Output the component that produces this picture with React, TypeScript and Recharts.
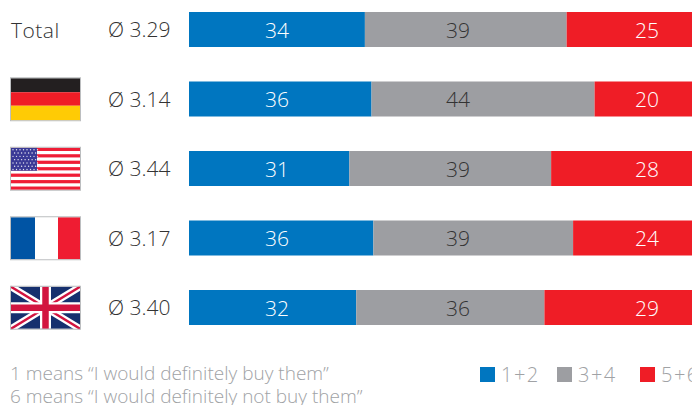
import { BarChart, Bar, XAxis, YAxis, LabelList, Legend } from 'recharts';

const categories = ['Total', 'Germany', 'USA', 'France', 'UK'];
const averages = ['3.29', '3.14', '3.44', '3.17', '3.40'];
const low = [34, 36, 31, 36, 32];
const mid = [39, 44, 39, 39, 36];
const high = [25, 20, 28, 24, 29];
const legendItems = ['1+2', '3+4', '5+6'];
const footnotes = ['1  means “I would definitely buy them”', '6 means “I would definitely not buy them”'];

const BLUE = '#0076c0';
const GREY = '#9d9ea2';
const RED = '#ef1d26';
const FONT = '"Open Sans", sans-serif';

const chartData = categories.map((name, i) => ({
  name,
  average: averages[i],
  low: low[i],
  mid: mid[i],
  high: high[i],
}));

function Germany() {
  return (
    <>
      <rect x={1} y={1} width={69} height={14} fill="#231f20" />
      <rect x={1} y={15} width={69} height={13.5} fill="#ef1d26" />
      <rect x={1} y={28.5} width={69} height={14.5} fill="#ffcb05" />
    </>
  );
}

function France() {
  return (
    <>
      <rect x={1} y={1} width={24} height={42} fill="#0054a4" />
      <rect x={25} y={1} width={23} height={42} fill="#fff" />
      <rect x={48} y={1} width={23} height={42} fill="#ef1c32" />
    </>
  );
}

function Usa() {
  const stripes = Array.from({ length: 13 }, (_, i) => i);
  const stars: [number, number][] = [];
  for (let r = 0; r < 7; r++) {
    for (let c = 0; c < 8; c++) stars.push([3 + c * 3.5 + (r % 2) * 1.6, 3 + r * 3.3]);
  }
  return (
    <>
      <rect x={1} y={1} width={69} height={42} fill="#fff" />
      {stripes.map((i) =>
        i % 2 === 0 ? <rect key={i} x={1} y={1 + (i * 42) / 13} width={69} height={42 / 13} fill="#ef1d36" /> : null
      )}
      <rect x={1} y={1} width={26} height={23} fill="#3a3a96" />
      {stars.map(([x, y]) => (
        <circle key={`${x}-${y}`} cx={x} cy={y} r={0.7} fill="#e6e6f2" />
      ))}
    </>
  );
}

function Uk() {
  const navy = '#16306e';
  const red = '#d2143f';
  return (
    <>
      <rect x={1} y={1} width={69} height={42} fill={navy} />
      <path d="M1 1 L70 43 M70 1 L1 43" stroke="#fff" strokeWidth={7} />
      <path d="M1 1 L70 43 M70 1 L1 43" stroke={red} strokeWidth={2.6} />
      <path d="M35.5 1 V43 M1 22 H70" stroke="#fff" strokeWidth={11} />
      <path d="M35.5 1 V43 M1 22 H70" stroke={red} strokeWidth={6.5} />
    </>
  );
}

const flags: Record<string, () => React.ReactElement> = {
  Germany,
  USA: Usa,
  France,
  UK: Uk,
};

// Row label: country flag (or "Total") followed by the mean score
function RowTick({ y, payload }: any) {
  const row = chartData.find((d) => d.name === payload.value);
  const Flag = flags[payload.value];
  return (
    <g>
      {Flag ? (
        <g transform={`translate(10,${y - 22})`}>
          <Flag />
          <rect x={0.5} y={0.5} width={70} height={43} fill="none" stroke="#bcbec0" strokeWidth={1} />
        </g>
      ) : (
        <text x={11} y={y + 8.5} fontSize={21} letterSpacing={0.5} fontWeight={300} fontFamily={FONT} fill="#333">
          {payload.value}
        </text>
      )}
      <text x={108} y={y + 7.5} fontSize={21} fontWeight={300} fontFamily={FONT} fill="#333">
        Ø {row?.average}
      </text>
    </g>
  );
}

// Numbers line up in columns rather than following the segment centres
const columnLabel = (x: number, fill: string) => ({ y, height, value }: any) => (
  <text
    x={x}
    y={y + height / 2}
    textAnchor="middle"
    dominantBaseline="central"
    fontSize={21}
    fontWeight={300}
    fontFamily={FONT}
    fill={fill}
  >
    {value}
  </text>
);

function BottomLegend() {
  const positions = [480, 557, 640];
  const colors = [BLUE, GREY, RED];
  return (
    <svg width={692} height={30} style={{ display: 'block', overflow: 'visible' }}>
      {legendItems.map((item, i) => (
        <g key={item}>
          <rect x={positions[i]} y={7} width={15} height={15} fill={colors[i]} />
          <text
            x={positions[i] + 21}
            y={22}
            fontSize={20}
            letterSpacing={1.5}
            fontWeight={300}
            fontFamily={FONT}
            fill="#a0a2a5"
          >
            {item}
          </text>
        </g>
      ))}
    </svg>
  );
}

export default function App() {
  return (
    <div style={{ position: 'absolute', left: 0, top: 0, width: 692, height: 405, overflow: 'hidden', background: '#fff' }}>
      <BarChart
        width={700}
        height={405}
        data={chartData}
        layout="vertical"
        stackOffset="expand"
        barSize={35}
        margin={{ top: -5, right: 4, bottom: 32.5, left: 0 }}
      >
        <XAxis type="number" hide domain={[0, 1]} />
        <YAxis type="category" dataKey="name" width={189} axisLine={false} tickLine={false} tick={RowTick} interval={0} />
        <Bar dataKey="low" stackId="a" fill={BLUE} isAnimationActive={false}>
          <LabelList dataKey="low" content={columnLabel(277, '#fff')} />
        </Bar>
        <Bar dataKey="mid" stackId="a" fill={GREY} isAnimationActive={false}>
          <LabelList dataKey="mid" content={columnLabel(458, '#333')} />
        </Bar>
        <Bar dataKey="high" stackId="a" fill={RED} isAnimationActive={false}>
          <LabelList dataKey="high" content={columnLabel(647, '#fff')} />
        </Bar>
        <Legend content={BottomLegend} wrapperStyle={{ left: 0, top: 360, width: 692, height: 30 }} />
        <text x={10} y={380} fontSize={19} fontWeight={300} fontFamily={FONT} fill="#a0a2a5">
          {footnotes[0]}
        </text>
        <text x={10} y={403} fontSize={19} fontWeight={300} fontFamily={FONT} fill="#a0a2a5">
          {footnotes[1]}
        </text>
      </BarChart>
    </div>
  );
}
